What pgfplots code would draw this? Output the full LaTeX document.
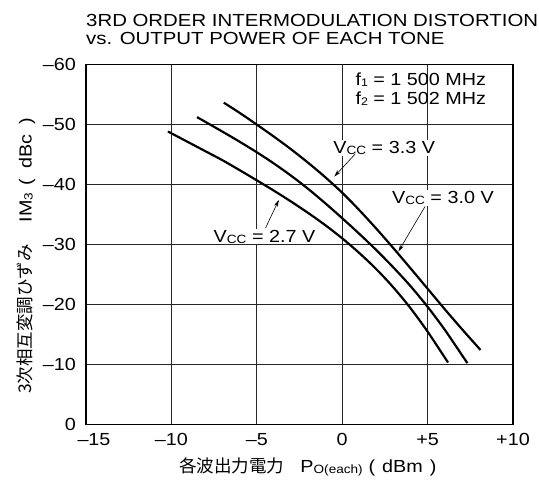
\documentclass[border=0pt]{standalone}
\usepackage{fontspec}
\setmainfont{Liberation Sans}[FakeStretch=1.13]
\newfontfamily\titlefont{Liberation Sans}[FakeStretch=1.165]
\newfontfamily\jp{Noto Sans CJK JP}
\usepackage{pgfplots}
\pgfplotsset{compat=1.18}
\usetikzlibrary{arrows.meta}

% small lowered index text (V_CC, IM_3, P_O(each), f_1)
\newcommand\sub[2][12]{\raisebox{-1pt}{\fontsize{#1}{#1}\selectfont #2}}

% IM3 versus output power per tone, one table per supply voltage
\pgfplotstableread{
x y
-6.93 -53.6
-6    -51.9
-5    -49.95
-4    -47.95
-3    -45.85
-2    -43.6
-1    -41.2
 0    -38.6
 1    -35.7
 2    -32.6
 3    -29.35
 4    -26.0
 5    -22.6
 6    -19.2
 7    -15.9
 8    -12.7
 8.08 -12.44
}\vccA
\pgfplotstableread{
x y
-8.5  -51.2
-8    -50.39
-7    -48.76
-6    -47.09
-5    -45.34
-4    -43.47
-3    -41.45
-2    -39.25
-1    -36.86
 0    -34.35
 1    -31.75
 2    -29.03
 3    -26.13
 4    -23.03
 5    -19.58
 6    -15.78
 7    -11.58
 7.33 -10.2
}\vccB
\pgfplotstableread{
x y
-10.2 -48.8
-9    -47.0
-8    -45.5
-7    -44.0
-6    -42.35
-5    -40.66
-4    -38.94
-3    -37.14
-2    -35.24
-1    -33.21
 0    -31.0
 1    -28.55
 2    -25.85
 3    -22.8
 4    -19.35
 5    -15.45
 6    -11.15
 6.2  -10.3
}\vccC

\begin{document}
\fontsize{17.5pt}{18.3pt}\selectfont
\begin{tikzpicture}
\path[use as bounding box] (0,0) rectangle (539pt,491pt);

\node[anchor=base west, inner sep=0pt, font=\titlefont] at (86pt,464.3pt) {3RD ORDER INTERMODULATION DISTORTION};
\node[anchor=base west, inner sep=0pt, font=\titlefont] at (86pt,446pt) {vs. OUTPUT POWER OF EACH TONE};

\begin{axis}[
  at={(86pt,66.7pt)}, anchor=south west,
  scale only axis, width=427pt, height=360pt,
  xmin=-15, xmax=10, ymin=-60, ymax=0, y dir=reverse,
  xtick={-15,-10,-5,0,5,10},
  xticklabels={\hspace*{16pt}–15,–10,–5,0,+5,+10},
  ytick={-60,-50,-40,-30,-20,-10,0},
  yticklabels={–60,–50,–40,–30,–20,–10,0},
  major tick length=0pt,
  grid=major,
  major grid style={black!85, line width=0.8pt},
  axis line style={black, line width=1.2pt},
  tick label style={font=\fontsize{17.5pt}{18pt}\selectfont},
  xticklabel style={yshift=-3pt},
  yticklabel style={xshift=-4pt},
]
\addplot[black, line width=2.2pt, smooth] table {\vccA};
\addplot[black, line width=2.2pt, smooth] table {\vccB};
\addplot[black, line width=2.2pt, smooth] table {\vccC};

\node[anchor=north west, align=left, inner sep=0pt] at (axis cs:0.77,-58.6)
  {f\sub[11]{1} = 1 500 MHz\\[1pt] f\sub[11]{2} = 1 502 MHz};

\node[fill=white, inner sep=1pt] at (axis cs:2.46,-46.05) {V\sub{CC} = 3.3 V};
\draw[line width=0.6pt, -{Stealth[length=7pt,width=4pt]}] (axis cs:0.76,-45.05) -- (axis cs:-0.46,-41.3);

\node[fill=white, inner sep=1pt] at (axis cs:5.9,-37.7) {V\sub{CC} = 3.0 V};
\draw[line width=0.6pt, -{Stealth[length=7pt,width=4pt]}] (axis cs:4.85,-36.3) -- (axis cs:3.29,-28.8);

\node[fill=white, inner sep=1pt] at (axis cs:-4.55,-31.3) {V\sub{CC} = 2.7 V};
\draw[line width=0.6pt, -{Stealth[length=7pt,width=4pt]}] (axis cs:-4.49,-32.7) -- (axis cs:-3.71,-37.4);
\end{axis}

\node[rotate=90] at (26pt,235pt) {{\jp 3次相互変調ひずみ}\hspace{22pt}IM\sub{3}\hspace{7pt}(\hspace{10pt}dBc\hspace{10pt})};
\node at (308pt,24pt) {{\jp 各波出力電力}\hspace{16pt}P\sub{O(each)}\hspace{6pt}(\hspace{7pt}dBm\hspace{7pt})};
\end{tikzpicture}
\end{document}
